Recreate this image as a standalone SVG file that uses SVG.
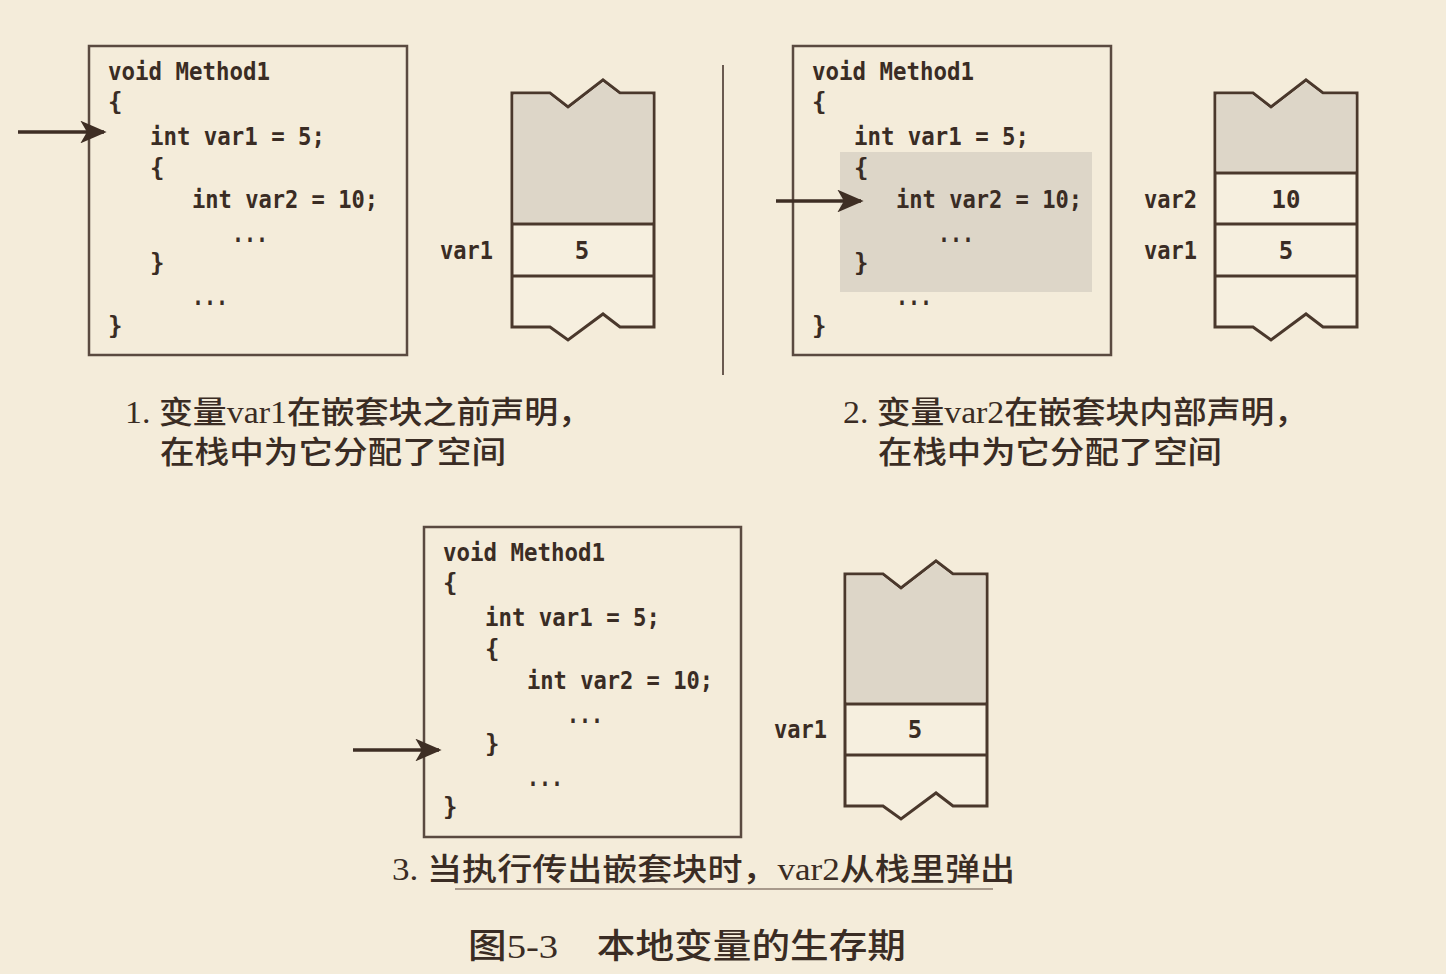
<svg xmlns="http://www.w3.org/2000/svg" width="1446" height="974" viewBox="0 0 1446 974">
<defs>
<marker id="ah" viewBox="0 0 10 10" refX="9" refY="5" markerWidth="7.5" markerHeight="6.5" markerUnits="strokeWidth" orient="auto" preserveAspectRatio="none">
<path d="M0,0 L10,5 L0,10 L2.5,5 Z" fill="#3e2e24"/>
</marker>
<style>
.bg{fill:#f4ecda}
.box{fill:none;stroke:#5a4a40;stroke-width:2.5}
.stk{fill:#f6efdf;stroke:#4a382c;stroke-width:3;stroke-linejoin:miter}
.shade{fill:#ddd6c8}
.hl{fill:#ddd6c8}
.div{stroke:#6a5a50;stroke-width:2}
.code{font-family:"DejaVu Sans Mono","Liberation Mono",monospace;font-size:24px;font-weight:bold;fill:#3a2c24}
.mid{text-anchor:middle}
.cap{font-family:"Liberation Serif","Noto Sans CJK SC",serif;font-size:31px;font-weight:500;fill:#3a2c24}
.ttl{font-family:"Liberation Serif","Noto Sans CJK SC",serif;font-size:34px;font-weight:500;fill:#3a2c24}
.arr{stroke:#3e2e24;stroke-width:3.5;fill:none}
</style>
</defs>
<rect class="bg" x="0" y="0" width="1446" height="974"/>

<line class="div" x1="723" y1="65" x2="723" y2="375"/>

<g id="panel1">
<rect class="box" x="89" y="46" width="318" height="309"/>
<text class="code" x="108" y="80" textLength="162" lengthAdjust="spacingAndGlyphs">void Method1</text>
<text class="code" x="108" y="110">{</text>
<text class="code" x="150" y="145" textLength="175" lengthAdjust="spacingAndGlyphs">int var1 = 5;</text>
<text class="code" x="150" y="176">{</text>
<text class="code" x="192" y="208" textLength="186" lengthAdjust="spacingAndGlyphs">int var2 = 10;</text>
<text class="code" x="232" y="242" textLength="36" lengthAdjust="spacingAndGlyphs">...</text>
<text class="code" x="150" y="271">}</text>
<text class="code" x="192" y="305" textLength="36" lengthAdjust="spacingAndGlyphs">...</text>
<text class="code" x="108" y="334">}</text>
</g>

<g id="stack1">
<path class="stk" d="M512,93 L550,93 L568,107 L603,80 L620,93 L654,93 L654,327 L620,327 L603,314 L568,340 L550,327 L512,327 Z"/>
<path class="shade" d="M513.5,94.5 L549.5,94.5 L568,109 L603,82 L619.5,94.5 L652.5,94.5 L652.5,222.5 L513.5,222.5 Z"/>
<line class="stk" x1="512" y1="224" x2="654" y2="224"/>
<line class="stk" x1="512" y1="276" x2="654" y2="276"/>
<text class="code" x="440" y="259" textLength="53" lengthAdjust="spacingAndGlyphs">var1</text>
<text class="code mid" x="582" y="259">5</text>
</g>

<g id="caption1">
<text class="cap" x="125" y="423" textLength="467" lengthAdjust="spacingAndGlyphs">1. 变量var1在嵌套块之前声明，</text>
<text class="cap" x="160" y="463" textLength="346" lengthAdjust="spacingAndGlyphs">在栈中为它分配了空间</text>
</g>

<g id="panel2">
<rect class="hl" x="840" y="152" width="252" height="140"/>
<rect class="box" x="793" y="46" width="318" height="309"/>
<text class="code" x="812" y="80" textLength="162" lengthAdjust="spacingAndGlyphs">void Method1</text>
<text class="code" x="812" y="110">{</text>
<text class="code" x="854" y="145" textLength="175" lengthAdjust="spacingAndGlyphs">int var1 = 5;</text>
<text class="code" x="854" y="176">{</text>
<text class="code" x="896" y="208" textLength="186" lengthAdjust="spacingAndGlyphs">int var2 = 10;</text>
<text class="code" x="938" y="242" textLength="36" lengthAdjust="spacingAndGlyphs">...</text>
<text class="code" x="854" y="271">}</text>
<text class="code" x="896" y="305" textLength="36" lengthAdjust="spacingAndGlyphs">...</text>
<text class="code" x="812" y="334">}</text>
</g>

<g id="stack2">
<path class="stk" d="M1215,93 L1253,93 L1271,107 L1306,80 L1323,93 L1357,93 L1357,327 L1323,327 L1306,314 L1271,340 L1253,327 L1215,327 Z"/>
<path class="shade" d="M1216.5,94.5 L1252.5,94.5 L1271,109 L1306,82 L1322.5,94.5 L1355.5,94.5 L1355.5,171.5 L1216.5,171.5 Z"/>
<line class="stk" x1="1215" y1="173" x2="1357" y2="173"/>
<line class="stk" x1="1215" y1="224" x2="1357" y2="224"/>
<line class="stk" x1="1215" y1="276" x2="1357" y2="276"/>
<text class="code" x="1144" y="208" textLength="53" lengthAdjust="spacingAndGlyphs">var2</text>
<text class="code mid" x="1286" y="208">10</text>
<text class="code" x="1144" y="259" textLength="53" lengthAdjust="spacingAndGlyphs">var1</text>
<text class="code mid" x="1286" y="259">5</text>
</g>

<g id="caption2">
<text class="cap" x="843" y="423" textLength="465" lengthAdjust="spacingAndGlyphs">2. 变量var2在嵌套块内部声明，</text>
<text class="cap" x="878" y="463" textLength="344" lengthAdjust="spacingAndGlyphs">在栈中为它分配了空间</text>
</g>

<g id="panel3">
<rect class="box" x="424" y="527" width="317" height="310"/>
<text class="code" x="443" y="561" textLength="162" lengthAdjust="spacingAndGlyphs">void Method1</text>
<text class="code" x="443" y="591">{</text>
<text class="code" x="485" y="626" textLength="175" lengthAdjust="spacingAndGlyphs">int var1 = 5;</text>
<text class="code" x="485" y="657">{</text>
<text class="code" x="527" y="689" textLength="186" lengthAdjust="spacingAndGlyphs">int var2 = 10;</text>
<text class="code" x="567" y="723" textLength="36" lengthAdjust="spacingAndGlyphs">...</text>
<text class="code" x="485" y="752">}</text>
<text class="code" x="527" y="786" textLength="36" lengthAdjust="spacingAndGlyphs">...</text>
<text class="code" x="443" y="815">}</text>
</g>

<g id="stack3">
<path class="stk" d="M845,574 L883,574 L901,588 L936,561 L953,574 L987,574 L987,806 L953,806 L936,793 L901,819 L883,806 L845,806 Z"/>
<path class="shade" d="M846.5,575.5 L882.5,575.5 L901,590 L936,563 L952.5,575.5 L985.5,575.5 L985.5,702.5 L846.5,702.5 Z"/>
<line class="stk" x1="845" y1="704" x2="987" y2="704"/>
<line class="stk" x1="845" y1="755" x2="987" y2="755"/>
<text class="code" x="774" y="738" textLength="53" lengthAdjust="spacingAndGlyphs">var1</text>
<text class="code mid" x="915" y="738">5</text>
</g>

<g id="caption3">
<text class="cap" x="392" y="880" textLength="623" lengthAdjust="spacingAndGlyphs">3. 当执行传出嵌套块时，var2从栈里弹出</text>
<line x1="455" y1="889" x2="993" y2="889" stroke="#a89a8c" stroke-width="2"/>
</g>

<g id="title">
<text class="ttl" x="468" y="958" textLength="438" lengthAdjust="spacingAndGlyphs">图5-3　本地变量的生存期</text>
</g>

<g id="connectors">
<line class="arr" x1="18" y1="132" x2="104" y2="132" marker-end="url(#ah)"/>
<line class="arr" x1="776" y1="201" x2="861" y2="201" marker-end="url(#ah)"/>
<line class="arr" x1="353" y1="750" x2="439" y2="750" marker-end="url(#ah)"/>
</g>
</svg>
